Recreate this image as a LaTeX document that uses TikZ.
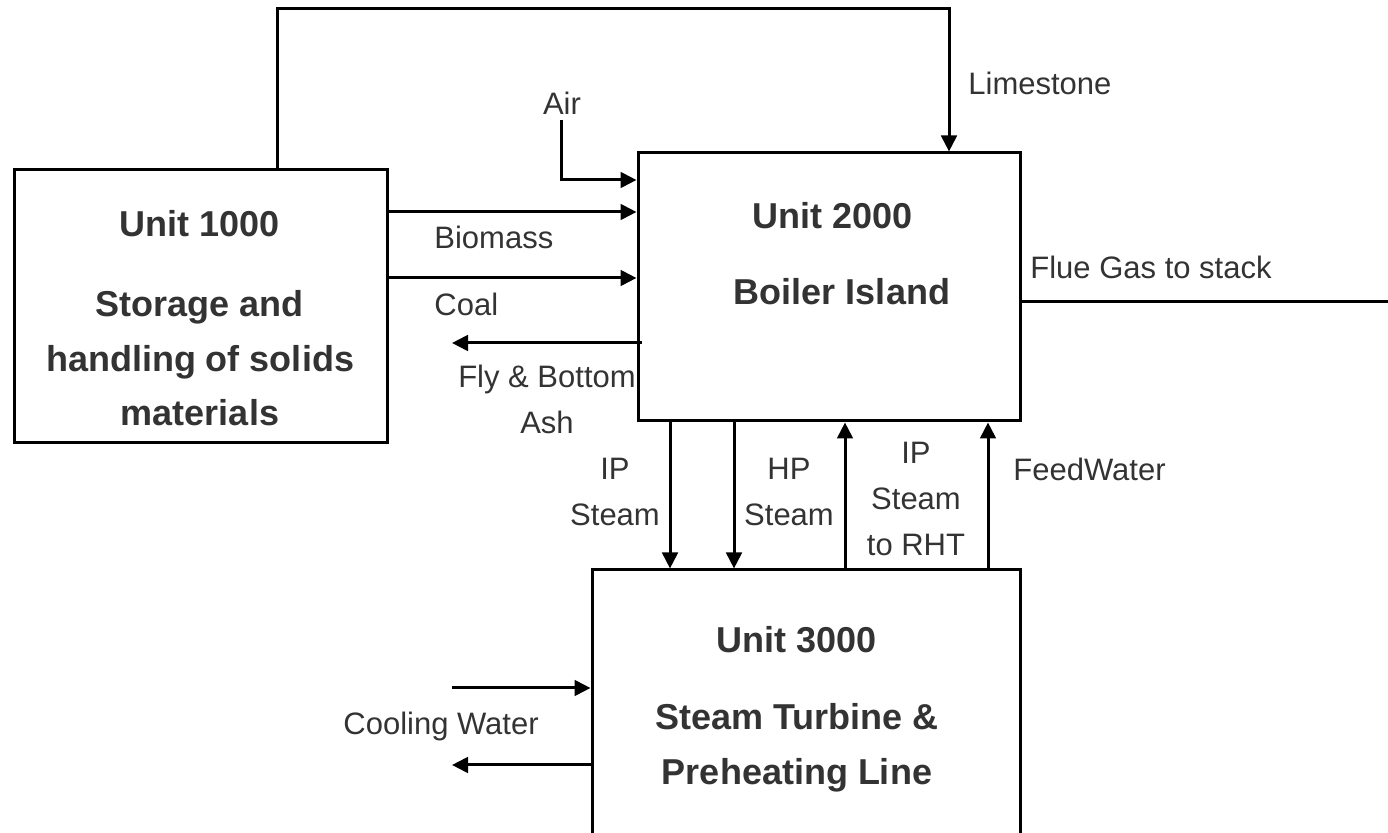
\documentclass[tikz,border=0pt]{standalone}
\usepackage{fontspec}
\setmainfont{Liberation Sans}
\definecolor{labelGray}{RGB}{51,51,51}
\usetikzlibrary{arrows.meta, positioning, calc}

\begin{document}
\begin{tikzpicture}[x=0.5pt, y=-0.5pt,
    unitBox/.style={draw, line width=1.5pt, inner sep=0pt},
    flow/.style={-{Triangle[length=8pt, width=7.8pt]}, line width=1.5pt},
    plainLine/.style={line width=1.5pt},
    lbl/.style={font=\fontsize{15.5}{23}\selectfont, text=labelGray, inner sep=0pt, align=center},
    unitTitle/.style={font=\bfseries\fontsize{18}{27.3}\selectfont, text=labelGray, inner sep=0pt, align=center}]
  \clip (0,0) rectangle (1388,833);

  % unit boxes
  \node[unitBox, minimum width=186.5pt, minimum height=136.5pt] (u1) at (200.5,306.5) {};
  \node[unitBox, minimum width=191pt, minimum height=134pt] (u2) at (829,287) {};
  \node[unitBox, minimum width=214pt, minimum height=165pt] (u3) at (806,735) {};

  \node[unitTitle, anchor=base] (t1a) at (200,237) {Unit 1000};
  \node[unitTitle, anchor=north] (t1b) at (200,290) {Storage and\\handling of solids\\materials};
  \node[unitTitle, anchor=base] (t2a) at (833,229) {Unit 2000};
  \node[unitTitle, anchor=base] (t2b) at (842,305) {Boiler Island};
  \node[unitTitle, anchor=base] (t3a) at (797,653) {Unit 3000};
  \node[unitTitle, anchor=north] (t3b) at (797,703) {Steam Turbine \&\\Preheating Line};

  % free ends and bends
  \coordinate (limeL) at (277,9);
  \coordinate (limeR) at (949,9);
  \coordinate (airIn) at (561,120);
  \coordinate (airK) at (600,180);
  \coordinate (bioY) at (0,212);
  \coordinate (coalY) at (0,278);
  \coordinate (ashEnd) at (452,343);
  \coordinate (flueEnd) at (1388,302);
  \coordinate (ipX) at (670,0);
  \coordinate (hpX) at (734,0);
  \coordinate (rhtX) at (845,0);
  \coordinate (fwX) at (988,0);
  \coordinate (cwIn) at (452,688);
  \coordinate (cwOut) at (452,765);

  % streams
  \draw[flow] (u1.north -| limeL) -- (limeL) -- (limeR) -- (limeR |- u2.north);
  \draw[flow] (airIn) |- (u2.west |- airK);
  \draw[flow] (u1.east |- bioY) -- (u2.west |- bioY);
  \draw[flow] (u1.east |- coalY) -- (u2.west |- coalY);
  \draw[flow] ([xshift=2.5pt]u2.west |- ashEnd) -- (ashEnd);
  \draw[plainLine] (u2.east |- flueEnd) -- (flueEnd);
  \draw[flow] (u2.south -| ipX) -- (u3.north -| ipX);
  \draw[flow] (u2.south -| hpX) -- (u3.north -| hpX);
  \draw[flow] (u3.north -| rhtX) -- (u2.south -| rhtX);
  \draw[flow] (u3.north -| fwX) -- (u2.south -| fwX);
  \draw[flow] (cwIn) -- (u3.west |- cwIn);
  \draw[flow] (u3.west |- cwOut) -- (cwOut);

  % stream labels
  \node[lbl, anchor=base west] (limeLbl) at (968,95) {Limestone};
  \node[lbl, anchor=base] (airLbl) at (562,115) {Air};
  \node[lbl, anchor=base west] (bioLbl) at (434,249) {Biomass};
  \node[lbl, anchor=base west] (coalLbl) at (434,316) {Coal};
  \node[lbl, anchor=north] (ashLbl) at (547,365) {Fly \& Bottom\\Ash};
  \node[lbl, anchor=base west] (flueLbl) at (1030,279) {Flue Gas to stack};
  \node[lbl, anchor=north] (ipLbl) at (615,458) {IP\\Steam};
  \node[lbl, anchor=north] (hpLbl) at (789,458) {HP\\Steam};
  \node[lbl, anchor=north] (rhtLbl) at (916,442) {IP\\Steam\\to RHT};
  \node[lbl, anchor=base west] (fwLbl) at (1013,481) {FeedWater};
  \node[lbl, anchor=base west] (cwLbl) at (343,735) {Cooling Water};
\end{tikzpicture}
\end{document}
